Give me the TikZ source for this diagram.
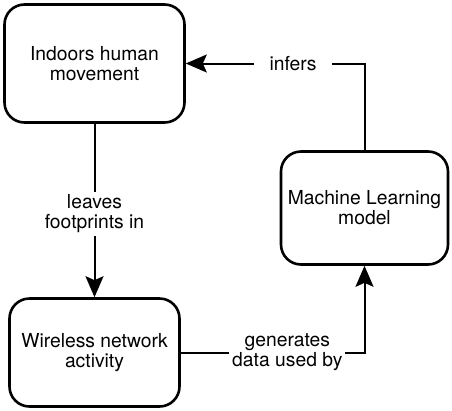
\documentclass[tikz,border=0pt]{standalone}
\usepackage{fontspec}
\setmainfont{TeX Gyre Heros}
\usepackage{tikz}
\usetikzlibrary{arrows.meta,positioning}

\begin{document}
\begin{tikzpicture}[x=1pt,y=-1pt,
  every node/.style={font=\fontsize{19.3}{20}\selectfont},
  box/.style={draw=black,line width=2.6pt,rounded corners=20pt,align=center,inner sep=0pt},
  link/.style={draw=black,line width=2pt,-{Stealth[length=21pt,width=18pt,inset=4pt]}},
  lbl/.style={fill=white,align=center,inner sep=3pt}]
\useasboundingbox (0,0) rectangle (452,410);
\node (human) at (94.5,63.5) [box,minimum width=180pt,minimum height=118pt] {Indoors human\\movement};
\node (wireless) at (94.5,352.5) [box,minimum width=170pt,minimum height=108pt] {Wireless network\\activity};
\node (model) at (364.5,208) [box,minimum width=167pt,minimum height=113pt] {Machine Learning\\model};
\draw[link] (human.south) -- node[lbl,pos=0.52] {leaves\\footprints in} (wireless.north);
\draw[link] (wireless.east) -| node[lbl,pos=0.29] {generates\\data used by} (model.south);
\draw[link] (model.north) |- node[lbl,pos=0.7,minimum width=78pt] {infers} (human.east);
\end{tikzpicture}
\end{document}
